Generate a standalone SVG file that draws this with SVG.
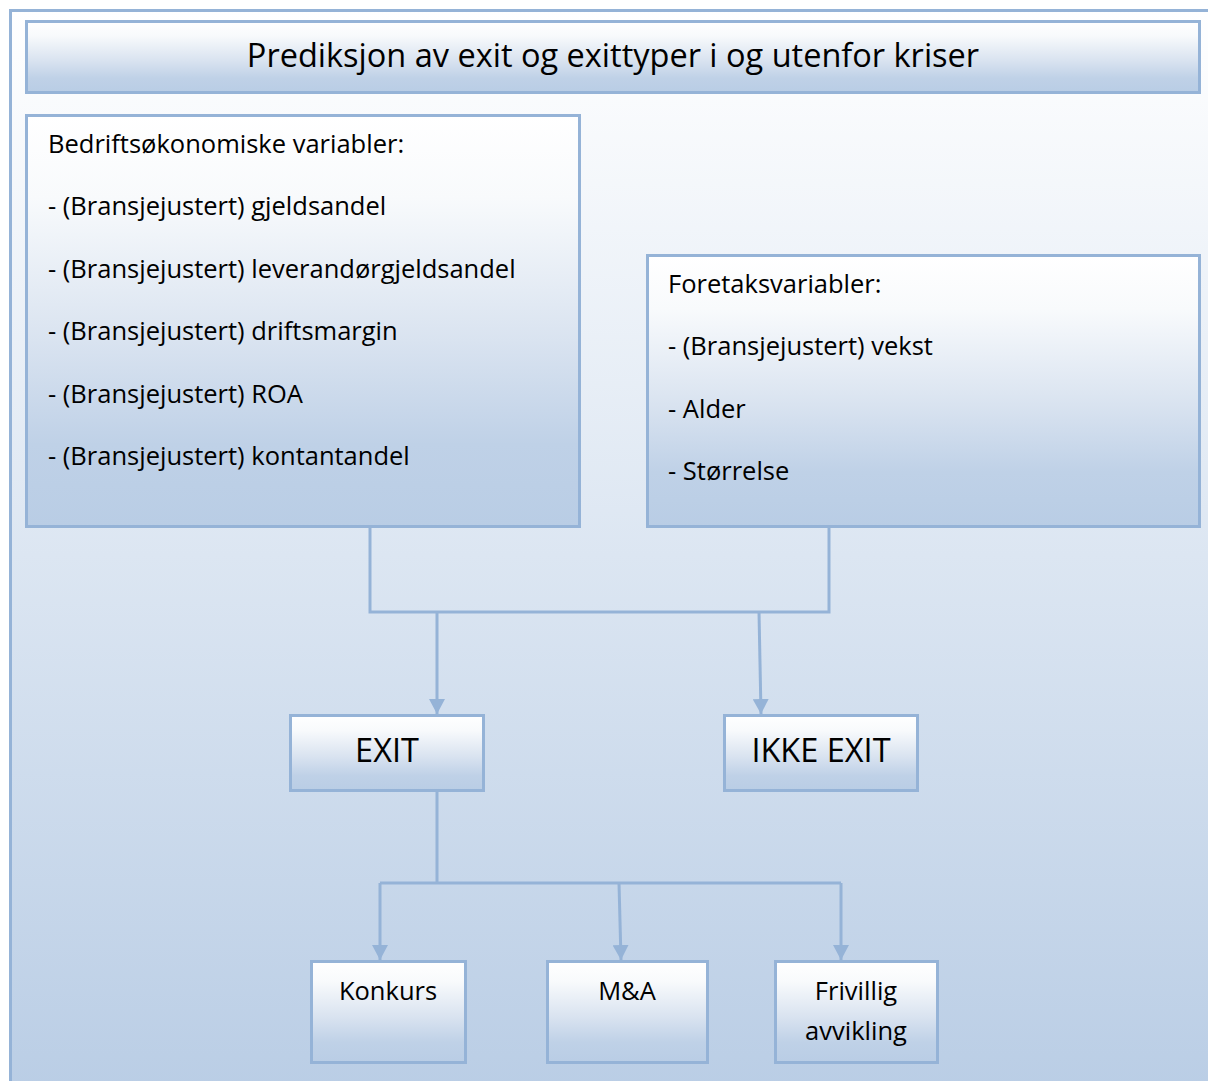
<svg xmlns="http://www.w3.org/2000/svg" width="1208" height="1081" viewBox="0 0 1208 1081">
<defs>
<linearGradient id="bg" x1="0" y1="0" x2="0" y2="1">
<stop offset="0" stop-color="#ffffff"/>
<stop offset="1" stop-color="#b9cde5"/>
</linearGradient>
<linearGradient id="box" x1="0" y1="0" x2="0" y2="1">
<stop offset="0" stop-color="#ffffff"/>
<stop offset="0.2" stop-color="#f8fafc"/>
<stop offset="0.55" stop-color="#d9e3f0"/>
<stop offset="0.8" stop-color="#bfd1e7"/>
<stop offset="1" stop-color="#b9cde5"/>
</linearGradient>
<marker id="arr" viewBox="0 0 15 16" refX="15" refY="8" markerWidth="15" markerHeight="16" markerUnits="userSpaceOnUse" orient="auto">
<path d="M0,0 L15,8 L0,16 Z" fill="#95b3d7"/>
</marker>
</defs>
<style>
.node rect{fill:url(#box);stroke:#95b3d7;stroke-width:3}
.t{font-family:"Open Sans",Lato,"Liberation Sans",sans-serif;fill:#000}
.s24{font-size:25.5px}
.c{text-anchor:middle}
.conn{fill:none;stroke:#95b3d7;stroke-width:3}
</style>
<rect x="0" y="0" width="1208" height="1081" fill="#ffffff"/>
<rect x="10.5" y="10.5" width="1210" height="1090" fill="url(#bg)" stroke="#95b3d7" stroke-width="3"/>
<g id="title" class="node">
<rect x="26.5" y="21.5" width="1173" height="71"/>
<text class="t c" x="613" y="67" font-size="32.5">Prediksjon av exit og exittyper i og utenfor kriser</text>
</g>
<g id="bedrift" class="node">
<rect x="26.5" y="115.5" width="553" height="411"/>
<text class="t s24" x="48" y="153">Bedriftsøkonomiske variabler:</text>
<text class="t s24" x="48" y="215">- (Bransjejustert) gjeldsandel</text>
<text class="t s24" x="48" y="278">- (Bransjejustert) leverandørgjeldsandel</text>
<text class="t s24" x="48" y="340">- (Bransjejustert) driftsmargin</text>
<text class="t s24" x="48" y="403">- (Bransjejustert) ROA</text>
<text class="t s24" x="48" y="465">- (Bransjejustert) kontantandel</text>
</g>
<g id="foretak" class="node">
<rect x="647.5" y="255.5" width="552" height="271"/>
<text class="t s24" x="668" y="293">Foretaksvariabler:</text>
<text class="t s24" x="668" y="355">- (Bransjejustert) vekst</text>
<text class="t s24" x="668" y="418">- Alder</text>
<text class="t s24" x="668" y="480">- Størrelse</text>
</g>
<g id="connectors">
<path class="conn" d="M370,527 V612 H829 V527"/>
<path class="conn" d="M437,612 V714" marker-end="url(#arr)"/>
<path class="conn" d="M759,612 L761,714" marker-end="url(#arr)"/>
<path class="conn" d="M437,791 V883"/>
<path class="conn" d="M380,883 H841"/>
<path class="conn" d="M380,883 V960" marker-end="url(#arr)"/>
<path class="conn" d="M619,883 L621,960" marker-end="url(#arr)"/>
<path class="conn" d="M841,883 V960" marker-end="url(#arr)"/>
</g>
<g id="exit" class="node">
<rect x="290.5" y="715.5" width="193" height="75"/>
<text class="t c" x="387" y="762" font-size="32.5">EXIT</text>
</g>
<g id="ikkeexit" class="node">
<rect x="724.5" y="715.5" width="193" height="75"/>
<text class="t c" x="821" y="762" font-size="32.5">IKKE EXIT</text>
</g>
<g id="konkurs" class="node">
<rect x="311.5" y="961.5" width="154" height="101"/>
<text class="t s24 c" x="388" y="1000">Konkurs</text>
</g>
<g id="ma" class="node">
<rect x="547.5" y="961.5" width="160" height="101"/>
<text class="t s24 c" x="627" y="1000">M&amp;A</text>
</g>
<g id="frivillig" class="node">
<rect x="775.5" y="961.5" width="162" height="101"/>
<text class="t s24 c" x="856" y="1000">Frivillig</text>
<text class="t s24 c" x="856" y="1040">avvikling</text>
</g>
</svg>
